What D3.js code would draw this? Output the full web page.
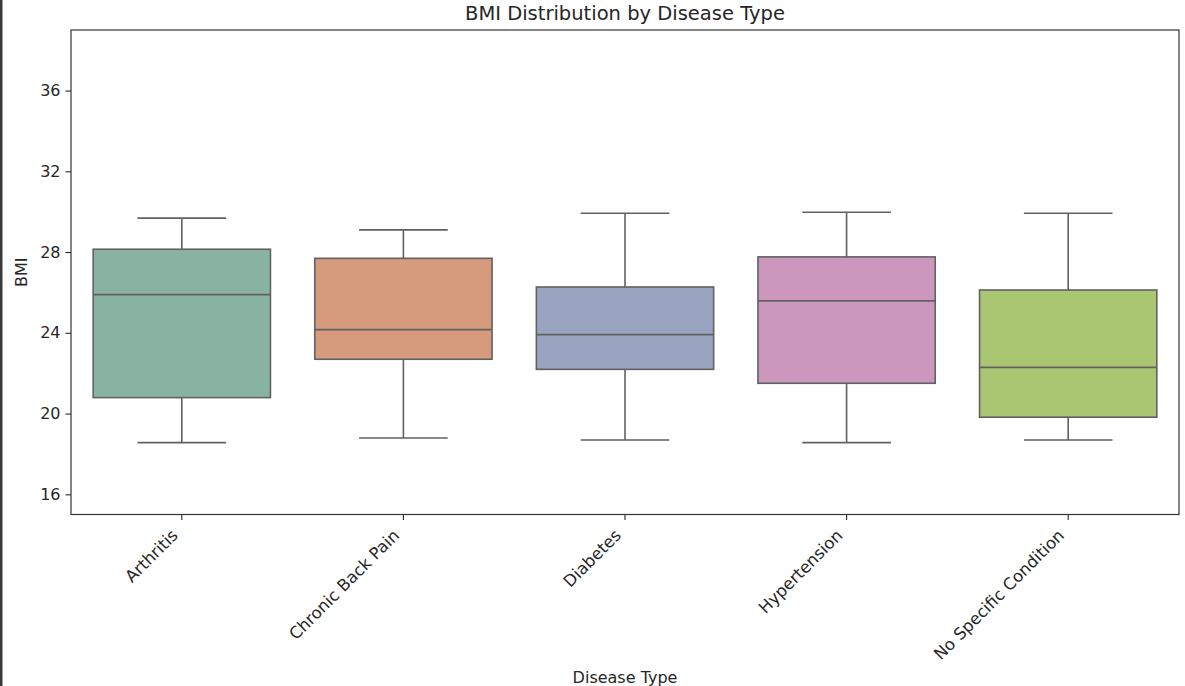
<!DOCTYPE html>
<html lang="en">
<head>
<meta charset="utf-8">
<title>BMI Distribution by Disease Type</title>
<style>
  body { margin: 0; padding: 0; background: #fff; overflow: hidden; }
  svg { display: block; }
  svg text { font-family: 'DejaVu Sans', sans-serif; fill: #262626; }
</style>
</head>
<body>
<svg id="chart" width="1185" height="686"></svg>
<script src="https://cdnjs.cloudflare.com/ajax/libs/d3/7.8.5/d3.min.js"></script>
<script>
// box statistics
var categories = ['Arthritis', 'Chronic Back Pain', 'Diabetes', 'Hypertension', 'No Specific Condition'];
var whiskerLow = [18.56, 18.79, 18.69, 18.56, 18.69];
var q1 =         [20.79, 22.69, 22.19, 21.50, 19.82];
var median =     [25.89, 24.16, 23.91, 25.58, 22.29];
var q3 =         [28.14, 27.69, 26.27, 27.76, 26.12];
var whiskerHigh = [29.68, 29.10, 29.92, 29.97, 29.92];
var colors = ['#88b3a0', '#d69a7c', '#99a4c1', '#cb97bd', '#aac673'];
var yTicks = [16, 20, 24, 28, 32, 36];

var svg = d3.select('#chart'),
    plotL = 71, plotR = 1179, plotT = 30, plotB = 514.5,
    lineColor = '#616161';

var x = d3.scaleBand().domain(categories).range([plotL, plotR]).padding(0);
var y = d3.scaleLinear().domain([15, 39]).range([plotB, plotT]);

var rows = categories.map(function (c, i) {
  return {name: c, lo: whiskerLow[i], q1: q1[i], med: median[i], q3: q3[i], hi: whiskerHigh[i], color: colors[i]};
});

// screenshot border on the left edge
svg.append('rect').attr('x', 0).attr('y', 0).attr('width', 2.5).attr('height', 686).attr('fill', '#3a3a3a');

var boxW = x.bandwidth() * 0.8,
    capW = boxW * 0.5;

var g = svg.selectAll('.box').data(rows).enter().append('g')
  .attr('class', 'box')
  .attr('transform', function (d) { return 'translate(' + (x(d.name) + x.bandwidth() / 2) + ',0)'; });

function hline(sel, w, key) {
  sel.append('line').attr('x1', -w / 2).attr('x2', w / 2)
    .attr('y1', function (d) { return y(d[key]); }).attr('y2', function (d) { return y(d[key]); })
    .attr('stroke', lineColor).attr('stroke-width', 1.6);
}

// whiskers
g.append('line').attr('x1', 0).attr('x2', 0)
  .attr('y1', function (d) { return y(d.q3); }).attr('y2', function (d) { return y(d.hi); })
  .attr('stroke', lineColor).attr('stroke-width', 1.6);
g.append('line').attr('x1', 0).attr('x2', 0)
  .attr('y1', function (d) { return y(d.q1); }).attr('y2', function (d) { return y(d.lo); })
  .attr('stroke', lineColor).attr('stroke-width', 1.6);
hline(g, capW, 'hi');
hline(g, capW, 'lo');
// boxes
g.append('rect')
  .attr('x', -boxW / 2).attr('width', boxW)
  .attr('y', function (d) { return y(d.q3); })
  .attr('height', function (d) { return y(d.q1) - y(d.q3); })
  .attr('fill', function (d) { return d.color; })
  .attr('stroke', lineColor).attr('stroke-width', 1.6);
hline(g, boxW, 'med');

// axes
var yAxis = svg.append('g').attr('transform', 'translate(' + plotL + ',0)')
  .call(d3.axisLeft(y).tickValues(yTicks).tickSize(5.5).tickPadding(5));
yAxis.attr('font-family', null);
yAxis.select('.domain').remove();
yAxis.selectAll('.tick line').attr('stroke', '#262626').attr('stroke-width', 1.1);
yAxis.selectAll('.tick text').attr('font-size', '16px').attr('fill', null);

var xAxis = svg.append('g').attr('transform', 'translate(0,' + plotB + ')')
  .call(d3.axisBottom(x).tickSize(5.5));
xAxis.attr('font-family', null);
xAxis.select('.domain').remove();
xAxis.selectAll('.tick line').attr('stroke', '#262626').attr('stroke-width', 1.1);
xAxis.selectAll('.tick text')
  .attr('font-size', '16.5px')
  .attr('fill', null)
  .attr('text-anchor', 'end')
  .attr('y', 0).attr('dy', 0)
  .attr('transform', 'translate(-3,22) rotate(-45)');

// frame
svg.append('rect')
  .attr('x', plotL).attr('y', plotT)
  .attr('width', plotR - plotL).attr('height', plotB - plotT)
  .attr('fill', 'none').attr('stroke', '#333').attr('stroke-width', 1.2);

// labels
svg.append('text').attr('x', (plotL + plotR) / 2).attr('y', 20)
  .attr('text-anchor', 'middle').attr('font-size', '19.5px')
  .text('BMI Distribution by Disease Type');
svg.append('text').attr('x', (plotL + plotR) / 2).attr('y', 683)
  .attr('text-anchor', 'middle').attr('font-size', '16px')
  .text('Disease Type');
svg.append('text').attr('transform', 'translate(27,' + ((plotT + plotB) / 2) + ') rotate(-90)')
  .attr('text-anchor', 'middle').attr('font-size', '16px')
  .text('BMI');
</script>
</body>
</html>
